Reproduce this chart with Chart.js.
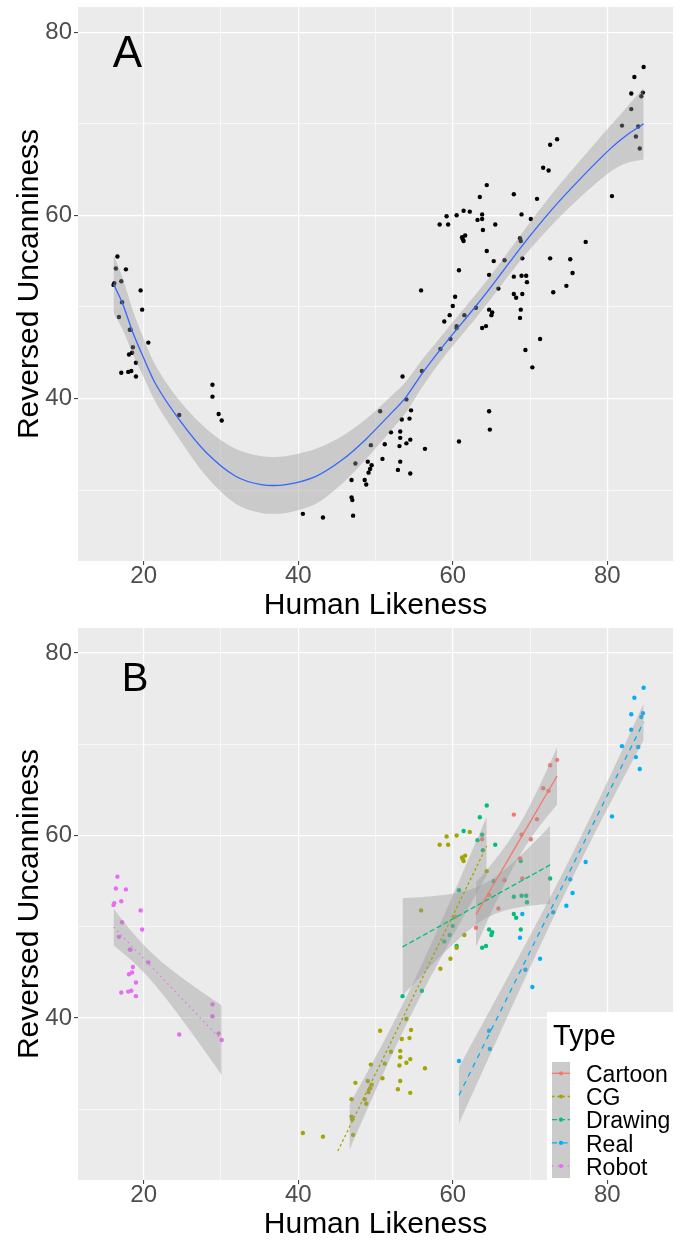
<!DOCTYPE html>
<html><head><meta charset="utf-8">
<script src="https://cdn.jsdelivr.net/npm/chart.js@4.4.1/dist/chart.umd.min.js"></script>
<style>
html,body{margin:0;padding:0;background:#fff;}
#wrap{position:relative;width:683px;height:1241px;overflow:hidden;}
canvas{position:absolute;left:0;}
</style></head><body>
<div id="wrap">
<canvas id="cA" width="683" height="620" style="top:0;width:683px;height:620px"></canvas>
<canvas id="cB" width="683" height="621" style="top:620px;width:683px;height:621px"></canvas>
</div>
<script>
// ---------- data ----------
const typeNames = ["Cartoon", "CG", "Drawing", "Real", "Robot"];
const typeColors = ["#F8766D", "#A3A500", "#00BF7D", "#00B0F6", "#E76BF3"];

const cartoonX = [73.5,72.6,71.7,72.4,67.9,70.9,68.9,70.1,63.8,68.7,69.0,66.7,64.7,65.9,63.0];
const cartoonY = [68.3,67.7,65.2,64.9,62.3,61.8,60.1,59.6,59.6,57.5,55.3,55.1,53.5,52.0,49.9];

const cgX = [40.6,43.2,47.1,46.9,47.0,46.9,47.4,48.8,48.6,49.0,49.5,49.3,49.1,49.4,51.2,50.9,50.6,52.0,53.4,54.0,54.6,54.4,53.2,53.2,54.0,54.5,53.1,53.2,52.9,54.5,56.4,58.4,59.7,61.5,60.5,55.9,60.3,59.2,60.5,62.2,58.3,59.4,61.3,61.6,61.4,61.2,64.4];
const cgY = [27.4,27.0,27.2,29.2,28.9,31.1,32.9,30.6,31.1,33.1,32.7,32.3,31.9,34.9,35.0,33.4,38.6,36.3,37.7,39.9,38.7,37.8,36.4,35.7,35.1,35.5,34.8,33.1,32.2,31.8,34.5,45.4,46.5,49.1,47.7,51.8,51.1,59.9,60.0,60.4,59.0,59.0,57.4,57.8,57.2,57.6,56.1];

const drawingX = [64.4,63.5,61.4,63.8,63.2,65.5,63.9,68.8,60.8,65.3,72.6,67.9,68.9,69.5,69.6,67.9,68.2,68.8,64.7,65.1,65.0,63.8,64.3,60.0,59.6,58.9,60.5,56.0,53.5];
const drawingY = [63.3,62.0,60.5,60.1,59.5,59.0,58.4,57.2,54.0,55.0,55.3,53.3,53.4,53.4,52.7,51.4,51.0,49.7,49.7,49.4,49.1,47.7,47.9,50.1,49.1,48.4,47.9,43.0,42.4];

const realX = [84.7,83.5,83.1,84.6,84.4,83.1,81.9,84.0,83.7,84.2,80.6,77.2,75.2,75.5,74.7,73.0,69.0,68.7,71.3,69.4,70.3,64.7,64.8,60.8];
const realY = [76.2,75.1,73.3,73.4,73.0,71.6,69.8,69.7,68.6,67.3,62.1,57.1,55.2,53.7,52.3,51.6,51.4,48.8,46.5,45.3,43.4,38.6,36.6,35.3];

const robotX = [16.6,16.4,17.7,16.2,16.1,17.1,19.6,17.2,19.8,16.8,18.2,18.3,20.6,18.6,18.1,18.5,19.0,17.1,18.0,18.4,19.0,28.9,28.9,24.6,29.7,30.1];
const robotY = [55.5,54.2,54.1,52.6,52.4,52.8,51.8,50.5,49.7,48.9,47.5,47.5,46.1,45.6,44.8,45.0,43.9,42.8,42.9,43.0,42.4,41.5,40.2,38.2,38.3,37.6];

// loess curve of panel A
const smoothX  = [16.1,17.3,18.6,19.9,21.6,24.6,28.1,31.9,35.2,38.4,42.3,45.7,48.7,51.7,53.9,56.1,59.1,63.0,65.6,69.0,72.9,76.4,80.3,82.4,84.7];
const smoothY  = [52.5,50.3,47.2,44.6,41.5,37.7,34.1,31.5,30.6,30.6,31.5,33.3,35.5,38.1,40.1,42.8,46.1,50.1,52.9,56.7,60.7,63.9,67.2,68.7,70.0];
const smoothLo = [49.3,47.5,44.8,42.5,39.5,35.6,31.5,28.5,27.5,27.5,28.5,30.7,33.3,36.2,38.4,41.3,44.8,48.8,51.6,55.3,59.0,61.9,64.7,65.7,66.1];
const smoothHi = [55.7,53.1,49.6,46.7,43.5,39.8,36.7,34.5,33.7,33.7,34.5,35.9,37.7,40.0,41.8,44.3,47.4,51.4,54.2,58.1,62.4,65.9,69.7,71.7,73.9];

// axes
const xLimits = [15, 85];
const yLimits = [25, 80];
const xTickLabels = [20, 40, 60, 80];
const xMinorGrid = [30, 50, 70];
const yTickLabels = [40, 60, 80];
const yMinorGrid = [30, 50, 70];
const xTitle = "Human Likeness";
const yTitle = "Reversed Uncanniness";
const panelLabels = [{text:"A", x:17.9, y:77.5}, {text:"B", x:18.9, y:77.0}];

// ---------- helpers ----------
const FONT = "'Liberation Sans', Arial, sans-serif";
const RIBBON = "rgba(153,153,153,0.4)";
const dashes = [[], [2.6,2.6], [5.2,2.6], [5.2,5.2], [1.3,3.9]];
const groupsX = [cartoonX, cgX, drawingX, realX, robotX];
const groupsY = [cartoonY, cgY, drawingY, realY, robotY];

function expand(lim){ const d=(lim[1]-lim[0])*0.05; return [lim[0]-d, lim[1]+d]; }
const xr = expand(xLimits), yr = expand(yLimits);

function tq975(df){
  const z = 1.959963985;
  const z3=z*z*z, z5=z3*z*z, z7=z5*z*z, z9=z7*z*z;
  return z + (z3+z)/(4*df) + (5*z5+16*z3+3*z)/(96*df*df)
    + (3*z7+19*z5+17*z3-15*z)/(384*df*df*df)
    + (79*z9+776*z7+1482*z5-1920*z3-945*z)/(92160*df*df*df*df);
}
function linfit(xs, ys){
  const n=xs.length;
  const mx=xs.reduce((a,b)=>a+b,0)/n, my=ys.reduce((a,b)=>a+b,0)/n;
  let sxx=0, sxy=0;
  for(let i=0;i<n;i++){ sxx+=(xs[i]-mx)**2; sxy+=(xs[i]-mx)*(ys[i]-my); }
  const b=sxy/sxx, a=my-b*mx;
  let sse=0; for(let i=0;i<n;i++){ sse+=(ys[i]-a-b*xs[i])**2; }
  const s=Math.sqrt(sse/(n-2)), t=tq975(n-2);
  const lo=Math.min(...xs), hi=Math.max(...xs);
  const out=[];
  for(let i=0;i<80;i++){
    const x=lo+(hi-lo)*i/79, y=a+b*x;
    const se=s*Math.sqrt(1/n+(x-mx)**2/sxx);
    out.push({x, y, lo:y-t*se, hi:y+t*se});
  }
  return out;
}
const inY = v => v>=yLimits[0] && v<=yLimits[1];
function zeroPad(s){ s.paddingTop=0; s.paddingBottom=0; s.paddingLeft=0; s.paddingRight=0; }

function scalesCfg(xAxisH){
  const isMajX = v => xTickLabels.includes(v);
  const isMajY = v => yTickLabels.includes(v);
  return {
    x: { type:'linear', min:xr[0], max:xr[1],
      afterBuildTicks: s => { s.ticks = xTickLabels.concat(xMinorGrid).sort((a,b)=>a-b).map(v=>({value:v})); },
      afterFit: s => { s.height = xAxisH; zeroPad(s); },
      border:{display:false},
      grid:{ color:'#FFFFFF', lineWidth: c => (c.tick && isMajX(c.tick.value)) ? 1.2 : 0.6,
        tickColor: c => (c.tick && isMajX(c.tick.value)) ? '#333333' : 'rgba(0,0,0,0)',
        tickLength:4, tickWidth:1 },
      ticks:{ autoSkip:false, maxRotation:0, padding:-1, color:'#4D4D4D',
        font:{family:FONT, size:24, lineHeight:1},
        callback: v => isMajX(v) ? String(v) : '' }
    },
    y: { type:'linear', min:yr[0], max:yr[1],
      afterBuildTicks: s => { s.ticks = yTickLabels.concat(yMinorGrid).sort((a,b)=>a-b).map(v=>({value:v})); },
      afterFit: s => { s.width = 78; zeroPad(s); },
      border:{display:false},
      grid:{ color:'#FFFFFF', lineWidth: c => (c.tick && isMajY(c.tick.value)) ? 1.2 : 0.6,
        tickColor: c => (c.tick && isMajY(c.tick.value)) ? '#333333' : 'rgba(0,0,0,0)',
        tickLength:4, tickWidth:1 },
      ticks:{ autoSkip:false, padding:2, color:'#4D4D4D',
        font:{family:FONT, size:24, lineHeight:1},
        callback: v => isMajY(v) ? String(v) : '' }
    }
  };
}

function decorPlugin(label, labelSize, withLegend){
  return {
    id:'decor',
    beforeDraw(chart){
      const {ctx, chartArea:ca} = chart;
      ctx.save(); ctx.fillStyle='#EBEBEB';
      ctx.fillRect(ca.left, ca.top, ca.right-ca.left, ca.bottom-ca.top);
      ctx.restore();
    },
    afterDraw(chart){
      const {ctx, chartArea:ca, scales} = chart;
      ctx.save();
      ctx.fillStyle='#000';
      ctx.font = '30px ' + FONT;
      ctx.textAlign='center'; ctx.textBaseline='alphabetic';
      ctx.fillText(xTitle, (ca.left+ca.right)/2, ca.bottom+53);
      ctx.save();
      ctx.translate(38, (ca.top+ca.bottom)/2);
      ctx.rotate(-Math.PI/2);
      ctx.fillText(yTitle, 0, 0);
      ctx.restore();
      ctx.font = labelSize + 'px ' + FONT;
      ctx.textBaseline='middle';
      ctx.fillText(label.text, scales.x.getPixelForValue(label.x), scales.y.getPixelForValue(label.y));
      if(withLegend){
        const lx = ca.right-126, ly = ca.bottom-168;
        ctx.fillStyle='#FFFFFF';
        ctx.fillRect(lx, ly, chart.width-lx, ca.bottom-ly);
        ctx.fillStyle='#000'; ctx.textAlign='left'; ctx.textBaseline='alphabetic';
        ctx.font='29px '+FONT;
        ctx.fillText('Type', lx+6, ly+33);
        ctx.fillStyle='#CBCBCB';
        ctx.fillRect(lx+5, ly+50, 18, 116);
        ctx.font='23px '+FONT;
        typeNames.forEach((nm,i)=>{
          const cy = ly+61.3+i*23.2;
          ctx.strokeStyle=typeColors[i]; ctx.lineWidth=1.3;
          ctx.setLineDash(dashes[i]);
          ctx.beginPath(); ctx.moveTo(lx+5, cy); ctx.lineTo(lx+23, cy); ctx.stroke();
          ctx.setLineDash([]);
          ctx.fillStyle=typeColors[i];
          ctx.beginPath(); ctx.arc(lx+14, cy, 2.1, 0, Math.PI*2); ctx.fill();
          ctx.fillStyle='#000';
          ctx.fillText(nm, lx+39, cy+8.6);
        });
      }
      ctx.restore();
    }
  };
}

function baseOptions(padTop, xAxisH){
  return {
    responsive:false, animation:false, devicePixelRatio:1,
    layout:{padding:{top:padTop, right:10, left:0, bottom:0}},
    plugins:{legend:{display:false}, tooltip:{enabled:false}},
    scales: scalesCfg(xAxisH),
    elements:{ point:{radius:0, hoverRadius:0} }
  };
}

// ---------- panel A ----------
const allPts = [];
groupsX.forEach((xs,g)=> xs.forEach((x,i)=> allPts.push({x, y:groupsY[g][i]})));
const dsA = [
  { type:'line', showLine:false, data: allPts, pointRadius:2.2, pointBackgroundColor:'#000', pointBorderWidth:0, order:3 },
  { type:'line', data: smoothX.map((x,i)=>({x, y:smoothHi[i]})), borderWidth:0, pointRadius:0, fill:false, tension:0.3, order:2 },
  { type:'line', data: smoothX.map((x,i)=>({x, y:smoothLo[i]})), borderWidth:0, pointRadius:0, fill:'-1', backgroundColor:RIBBON, tension:0.3, order:2 },
  { type:'line', data: smoothX.map((x,i)=>({x, y:smoothY[i]})), borderColor:'#3366FF', borderWidth:1.3, pointRadius:0, fill:false, tension:0.3, order:1 }
];
new Chart(document.getElementById('cA'), {
  type:'line', data:{datasets:dsA}, options: baseOptions(7, 59),
  plugins:[decorPlugin(panelLabels[0], 44, false)]
});

// ---------- panel B ----------
const dsB = [];
groupsX.forEach((xs,g)=>{
  dsB.push({ type:'line', showLine:false, data: xs.map((x,i)=>({x, y:groupsY[g][i]})),
    pointRadius:2.2, pointBackgroundColor:typeColors[g], pointBorderWidth:0, order:3 });
});
groupsX.forEach((xs,g)=>{
  const fit = linfit(xs, groupsY[g]);
  const rib = fit.filter(p => inY(p.lo) && inY(p.hi));
  dsB.push({ type:'line', data: rib.map(p=>({x:p.x, y:p.hi})), borderWidth:0, pointRadius:0, fill:false, order:2 });
  dsB.push({ type:'line', data: rib.map(p=>({x:p.x, y:p.lo})), borderWidth:0, pointRadius:0, fill:'-1', backgroundColor:RIBBON, order:2 });
  dsB.push({ type:'line', data: fit.filter(p=>inY(p.y)).map(p=>({x:p.x, y:p.y})), borderColor:typeColors[g],
    borderWidth:1.3, borderDash:dashes[g], pointRadius:0, fill:false, order:1 });
});
new Chart(document.getElementById('cB'), {
  type:'line', data:{datasets:dsB}, options: baseOptions(8, 61),
  plugins:[decorPlugin(panelLabels[1], 40, true)]
});
</script>
</body></html>
